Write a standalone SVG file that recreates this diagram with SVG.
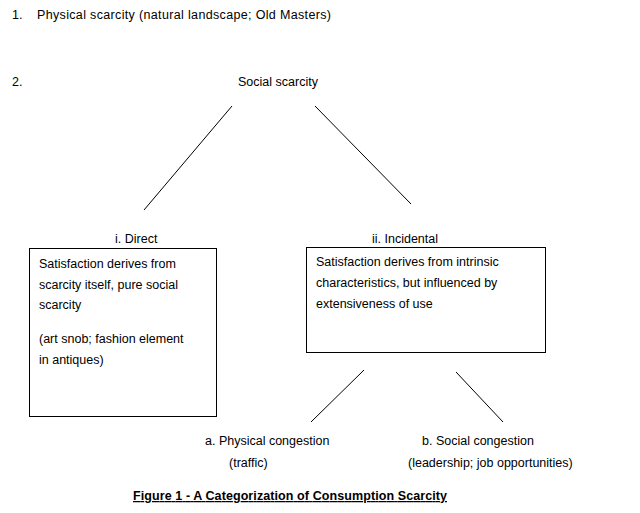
<svg xmlns="http://www.w3.org/2000/svg" width="640" height="513" viewBox="0 0 640 513">
<style>
text{font-family:"Liberation Sans",Arial,sans-serif;font-size:12.5px;fill:#000}
.b{fill:#fff;stroke:#000;stroke-width:1}
.c line{stroke:#000;stroke-width:1}
.t{font-weight:bold;text-decoration:underline}
.w{fill:none;stroke:#c00;stroke-width:0.8}
</style>
<rect width="640" height="513" fill="#fff"/>
<g id="n1"><text x="12" y="19">1.</text><text x="37" y="19" textLength="294">Physical scarcity (natural landscape; Old Masters)</text></g>
<g id="n2"><text x="12" y="86">2.</text><text x="238" y="86">Social scarcity</text></g>
<g class="c" id="connectors">
<line x1="232" y1="106" x2="144" y2="210"/>
<line x1="315" y1="106" x2="411" y2="204"/>
<line x1="364" y1="370" x2="311" y2="422"/>
<line x1="456" y1="372" x2="503" y2="422"/>
</g>
<g id="direct">
<text x="115" y="243">i.   Direct</text>
<rect class="b" x="29.5" y="248.5" width="187" height="168"/>
<text x="39" y="268">Satisfaction derives from</text>
<text x="39" y="289">scarcity itself, pure social</text>
<text x="39" y="309">scarcity</text>
<text x="39" y="343">(art snob; fashion element</text>
<text x="39" y="364">in antiques)</text>
</g>
<g id="incidental">
<text x="372" y="243">ii. Incidental</text>
<rect class="b" x="306.5" y="247.5" width="239" height="105"/>
<text x="316" y="266">Satisfaction derives from intrinsic</text>
<text x="316" y="287">characteristics, but influenced by</text>
<text x="316" y="308">extensiveness of use</text>
</g>
<g id="physcong"><text x="205" y="445">a.   Physical congestion</text><text x="229" y="467">(traffic)</text></g>
<g id="soccong"><text x="422" y="445">b. Social congestion</text><text x="408" y="467">(leadership; job opportunities)</text></g>
<g id="title"><text class="t" x="133" y="500" textLength="314">Figure 1 - A Categorization of Consumption Scarcity</text></g>
</svg>
